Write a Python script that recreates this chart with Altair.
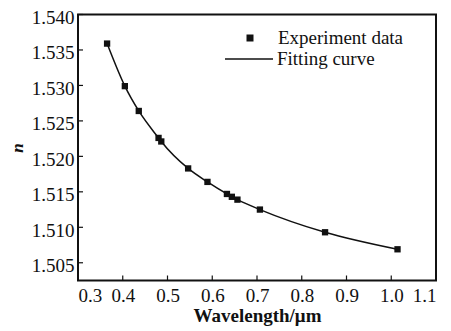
import altair as alt
import pandas as pd

wavelength = [0.365, 0.4047, 0.4358, 0.4800, 0.4861, 0.5461, 0.5893, 0.6328, 0.6438, 0.6563, 0.7065, 0.8521, 1.0140]
index_n = [1.5359, 1.5299, 1.5264, 1.5226, 1.5221, 1.5183, 1.5164, 1.5147, 1.5143, 1.5139, 1.5125, 1.5093, 1.5069]
x_ticks = [0.3, 0.4, 0.5, 0.6, 0.7, 0.8, 0.9, 1.0, 1.1]
y_ticks = [1.505, 1.510, 1.515, 1.520, 1.525, 1.530, 1.535, 1.540]

W, H = 358, 266
FONT = "Liberation Serif"

df = pd.DataFrame({"wl": wavelength, "n": index_n})
df["pts"] = "Experiment data"
df["fit"] = "Fitting curve"

xs = alt.Scale(domain=[0.3, 1.1], nice=False, zero=False)
ys = alt.Scale(domain=[1.5025, 1.540], nice=False, zero=False)

x_axis = alt.Axis(values=x_ticks, format=".1f", ticks=False, domain=False, grid=False,
                  labelPadding=6, title="Wavelength/μm", titlePadding=1)
y_axis = alt.Axis(values=y_ticks, format=".3f", ticks=False, domain=False, grid=False,
                  labelPadding=4, labelOffset=3, title="n", titlePadding=5,
                  titleFontStyle="italic", titleFontSize=17)

line = alt.Chart(df).mark_line(interpolate="monotone", color="#111", strokeWidth=1.5).encode(
    x=alt.X("wl:Q", scale=xs, axis=x_axis),
    y=alt.Y("n:Q", scale=ys, axis=y_axis),
    stroke=alt.Stroke("fit:N", scale=alt.Scale(range=["#111"]),
                      legend=alt.Legend(title=None, orient="none", legendX=146, legendY=19.5,
                                        symbolType="stroke", symbolSize=2304,
                                        symbolStrokeWidth=1.5, labelOffset=3, padding=0)),
)

pts = alt.Chart(df).mark_point(shape="square", filled=True, color="#111", size=40, opacity=1).encode(
    x=alt.X("wl:Q", scale=xs, axis=x_axis),
    y=alt.Y("n:Q", scale=ys, axis=y_axis),
    shape=alt.Shape("pts:N", scale=alt.Scale(range=["square"]),
                    legend=alt.Legend(title=None, orient="none", legendX=162.5, legendY=14,
                                      symbolSize=49, symbolFillColor="#111",
                                      symbolStrokeColor="#111", symbolOpacity=1,
                                      labelOffset=18.5, padding=0)),
)

xt = alt.Chart(pd.DataFrame({"t": x_ticks})).mark_rule(color="#111", strokeWidth=1.2).encode(
    x=alt.X("t:Q", scale=xs, axis=x_axis),
    y=alt.value(H),
    y2=alt.value(H - 5),
)
yt = alt.Chart(pd.DataFrame({"t": y_ticks})).mark_rule(color="#111", strokeWidth=1.2).encode(
    y=alt.Y("t:Q", scale=ys, axis=y_axis),
    x=alt.value(0),
    x2=alt.value(5),
)

chart = alt.layer(line, pts, xt, yt).properties(
    width=W, height=H,
    autosize=alt.AutoSizeParams(type="none"),
    padding={"left": 70, "top": 6.5, "right": 6, "bottom": 50},
).configure_view(stroke="#111", strokeWidth=2).configure_axis(
    labelFont=FONT, labelFontSize=19, labelColor="#111",
    titleFont=FONT, titleFontSize=19, titleFontWeight="bold", titleColor="#111",
).configure_legend(
    labelFont=FONT, labelFontSize=19, labelColor="#111",
)

chart.save("out.html", embed_options={"renderer": "svg", "actions": False})
